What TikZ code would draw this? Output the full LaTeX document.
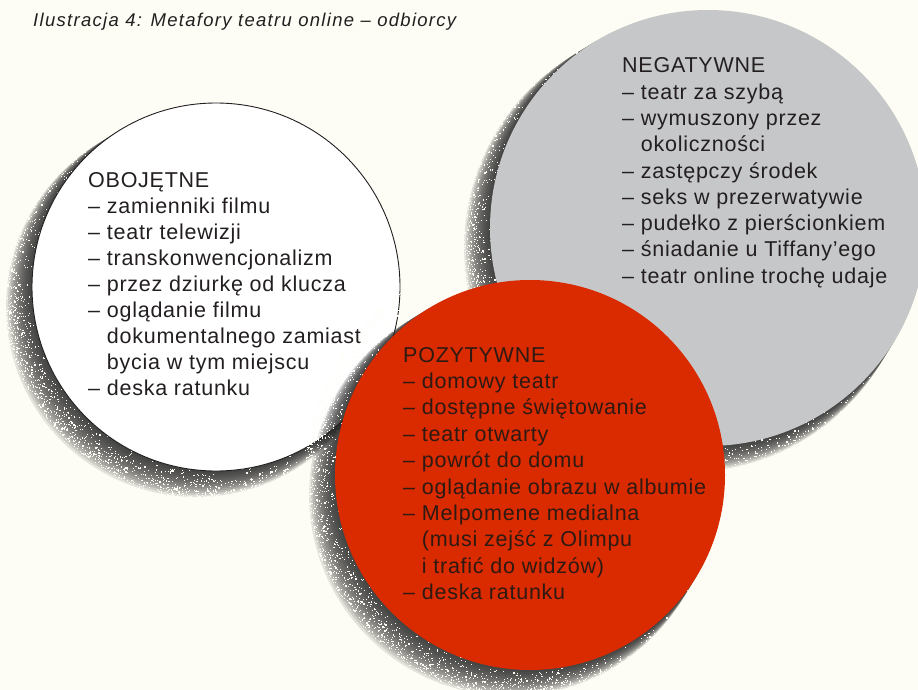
\documentclass[tikz,border=0pt]{standalone}
\usepackage{fontspec}
\setmainfont{Liberation Sans}[LetterSpace=3.5]
\newfontfamily\titlefont{Liberation Sans}[LetterSpace=7]
\definecolor{bg}{HTML}{FEFDF5}
\definecolor{cgray}{HTML}{C6C7C9}
\definecolor{cred}{HTML}{D92A00}
\definecolor{ink}{HTML}{231F20}
\definecolor{inkred}{HTML}{2E1A12}
\tikzset{
  itemline/.style={anchor=base west, inner sep=0pt, text=ink, font=\fontsize{21.5}{26}\selectfont},
  reditem/.style={itemline, text=inkred},
  shadowlayer/.style={fill=black!85, opacity=0.12},
  speck/.style={fill=bg},
}
\newcommand\circshadow[3]{%
  \foreach \k in {1,...,14}{%
    \fill[shadowlayer] ({#1-1.4*\k},{#2+1.4*\k}) circle ({#3pt+0.45pt*\k});
  }%
}
\newcommand\circnoise[4]{%
  \foreach \n in {1,...,#4}{%
    \pgfmathsetmacro\ang{25+rnd*220}%
    \pgfmathsetmacro\rad{#3-1+31*sqrt(rnd)}%
    \pgfmathsetmacro\sz{0.5+rnd*1.0}%
    \fill[speck] ([shift={(#1,#2)}]\ang:\rad) rectangle +(\sz,\sz);
  }%
}
\begin{document}
\begin{tikzpicture}[x=1pt,y=-1pt]
\pgfmathsetseed{4242}
\fill[bg] (0,0) rectangle (918,690);
\useasboundingbox (0,0) rectangle (918,690);
\begin{scope}
\clip (0,0) rectangle (918,690);
% gray circle
\circshadow{708}{228}{218}
\circnoise{708}{228}{218}{2600}
\fill[cgray] (708,228) circle (218pt);
% white circle
\circshadow{216}{287}{184}
\circnoise{216}{287}{184}{2400}
\fill[white, draw=ink, line width=0.9pt] (216,287) circle (184pt);
% red circle
\circshadow{530}{475}{195}
\circnoise{530}{475}{195}{2400}
\fill[cred] (530,475) circle (195pt);
\end{scope}
\coordinate (gc) at (708,228);
\coordinate (wc) at (216,287);
\coordinate (rc) at (530,475);
% title
\node[anchor=base west, inner sep=0pt, text=ink, font=\titlefont\itshape\fontsize{18.5}{20}\selectfont] (title) at (33,27) {Ilustracja 4: Metafory teatru online – odbiorcy};
% OBOJETNE
\foreach \t [count=\i] in {{OBOJĘTNE},{– zamienniki filmu},{– teatr telewizji},{– transkonwencjonalizm},{– przez dziurkę od klucza},{– oglądanie filmu},{\phantom{– }dokumentalnego zamiast},{\phantom{– }bycia w tym miejscu},{– deska ratunku}}
  \node[itemline] (ob\i) at (88,{187+26*(\i-1)}) {\t};
% NEGATYWNE
\foreach \t [count=\i] in {{NEGATYWNE},{– teatr za szybą},{– wymuszony przez},{\phantom{– }okoliczności},{– zastępczy środek},{– seks w prezerwatywie},{– pudełko z pierścionkiem},{– śniadanie u Tiffany’ego},{– teatr online trochę udaje}}
  \node[itemline] (ng\i) at (622,{73+26.25*(\i-1)}) {\t};
% POZYTYWNE
\foreach \t [count=\i] in {{POZYTYWNE},{– domowy teatr},{– dostępne świętowanie},{– teatr otwarty},{– powrót do domu},{– oglądanie obrazu w albumie},{– Melpomene medialna},{\phantom{– }(musi zejść z Olimpu},{\phantom{– }i trafić do widzów)},{– deska ratunku}}
  \node[reditem] (pz\i) at (403,{362+26.4*(\i-1)}) {\t};
\end{tikzpicture}
\end{document}
